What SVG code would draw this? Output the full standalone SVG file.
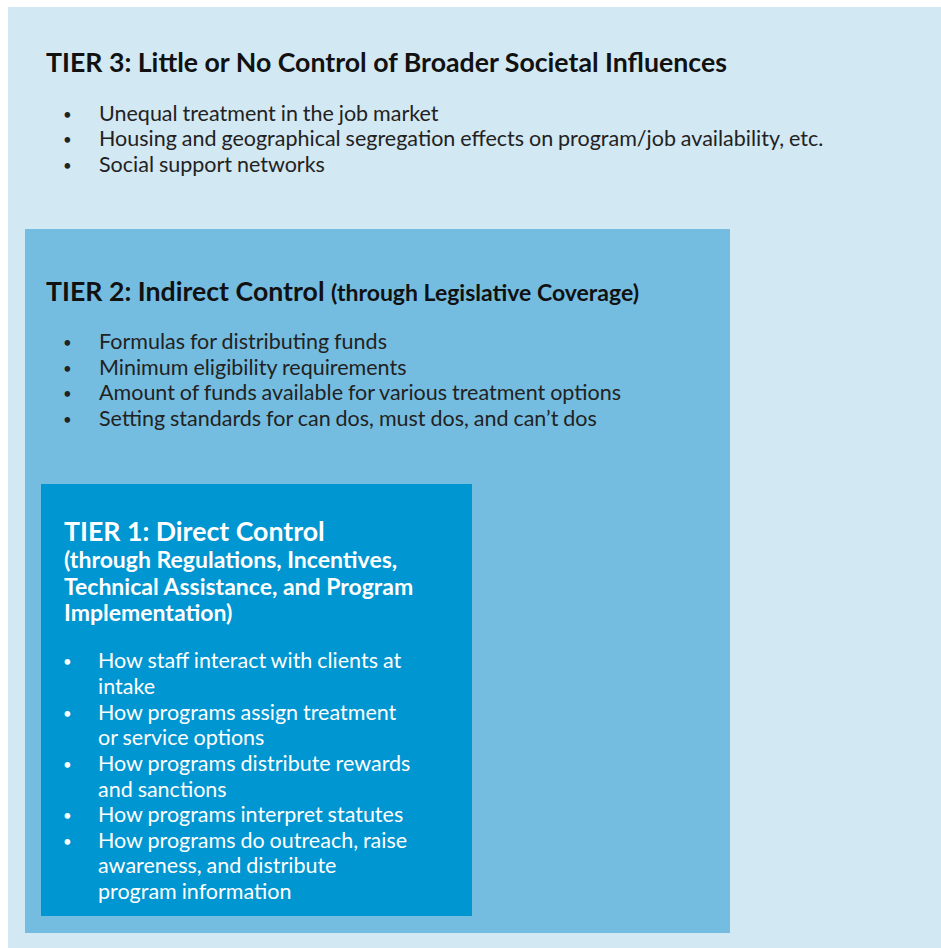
<svg xmlns="http://www.w3.org/2000/svg" width="941" height="948" viewBox="0 0 941 948">
<style>
.t{font-family:Lato,"Open Sans","Liberation Sans",sans-serif;}
.h{font-weight:bold;font-size:26.7px;fill:#111;}
.hs{font-weight:bold;font-size:23px;}
.b{font-size:21.5px;fill:#222;word-spacing:-0.6px;}
.d{font-size:15px;}
.w{fill:#fff;}
</style>
<rect x="0" y="0" width="941" height="948" fill="#ffffff"/>
<g id="tier3">
<rect x="8" y="7" width="933" height="941" fill="#D2E8F3"/>
<text class="t h" x="46" y="72">TIER 3: Little or No Control of Broader Societal Influences</text>
<g class="t b">
<text class="d" x="63" y="120">•</text><text x="99" y="121">Unequal treatment in the job market</text>
<text class="d" x="63" y="145">•</text><text x="99" y="146">Housing and geographical segregation effects on program/job availability, etc.</text>
<text class="d" x="63" y="171">•</text><text x="99" y="172">Social support networks</text>
</g>
</g>
<g id="tier2">
<rect x="25" y="229" width="705" height="704" fill="#74BDE0"/>
<text class="t h" x="46" y="301">TIER 2: Indirect Control <tspan class="hs">(through Legislative Coverage)</tspan></text>
<g class="t b">
<text class="d" x="63" y="348">•</text><text x="99" y="349">Formulas for distributing funds</text>
<text class="d" x="63" y="374">•</text><text x="99" y="375">Minimum eligibility requirements</text>
<text class="d" x="63" y="399">•</text><text x="99" y="400">Amount of funds available for various treatment options</text>
<text class="d" x="63" y="425">•</text><text x="99" y="426">Setting standards for can dos, must dos, and can’t dos</text>
</g>
</g>
<g id="tier1">
<rect x="41" y="484" width="431" height="432" fill="#0096D1"/>
<text class="t h w" x="64" y="541">TIER 1: Direct Control</text>
<g class="t hs w">
<text x="64" y="568">(through Regulations, Incentives,</text>
<text x="64" y="595">Technical Assistance, and Program</text>
<text x="64" y="621">Implementation)</text>
</g>
<g class="t b w">
<text class="d" x="63" y="667">•</text><text x="98" y="668">How staff interact with clients at</text>
<text x="98" y="694">intake</text>
<text class="d" x="63" y="719">•</text><text x="98" y="720">How programs assign treatment</text>
<text x="98" y="745">or service options</text>
<text class="d" x="63" y="770">•</text><text x="98" y="771">How programs distribute rewards</text>
<text x="98" y="797">and sanctions</text>
<text class="d" x="63" y="821">•</text><text x="98" y="822">How programs interpret statutes</text>
<text class="d" x="63" y="847">•</text><text x="98" y="848">How programs do outreach, raise</text>
<text x="98" y="873">awareness, and distribute</text>
<text x="98" y="899">program information</text>
</g>
</g>
</svg>
